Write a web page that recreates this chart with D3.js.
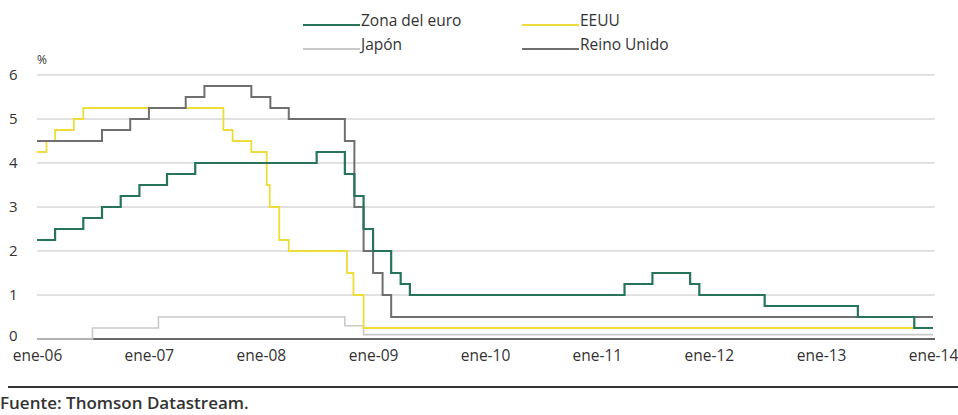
<!DOCTYPE html>
<html>
<head>
<meta charset="utf-8">
<script src="https://cdn.jsdelivr.net/npm/d3@7"></script>
<style>
  body { margin: 0; background: #fff; }
  svg text { font-family: "Open Sans", sans-serif; fill: #333; }
</style>
</head>
<body>
<svg width="958" height="415"></svg>
<script>
const width = 958;
const height = 415;

// tipos oficiales, % (fecha de cada cambio)
const euroDates = ["2006-01", "2006-03", "2006-06", "2006-08", "2006-10", "2006-12", "2007-03", "2007-06", "2008-07", "2008-10", "2008-11", "2008-12", "2009-01", "2009-03", "2009-04", "2009-05", "2011-04", "2011-07", "2011-11", "2011-12", "2012-07", "2013-05", "2013-11", "2014-01"];
const euroRates = [2.25, 2.5, 2.75, 3.0, 3.25, 3.5, 3.75, 4.0, 4.25, 3.75, 3.25, 2.5, 2.0, 1.5, 1.25, 1.0, 1.25, 1.5, 1.25, 1.0, 0.75, 0.5, 0.25, 0.25];

const usDates = ["2006-01", "2006-02", "2006-03", "2006-05", "2006-06", "2007-09", "2007-10", "2007-12", "2008-01-20", "2008-01-30", "2008-03", "2008-04", "2008-10-08", "2008-10-29", "2008-12", "2014-01"];
const usRates = [4.25, 4.5, 4.75, 5.0, 5.25, 4.75, 4.5, 4.25, 3.5, 3.0, 2.25, 2.0, 1.5, 1.0, 0.25, 0.25];

const jpDates = ["2006-01", "2006-07", "2007-02", "2008-10", "2008-12", "2014-01"];
const jpRates = [0, 0.25, 0.5, 0.3, 0.1, 0.1];

const ukDates = ["2006-01", "2006-08", "2006-11", "2007-01", "2007-05", "2007-07", "2007-12", "2008-02", "2008-04", "2008-10", "2008-11", "2008-12", "2009-01", "2009-02", "2009-03", "2014-01"];
const ukRates = [4.5, 4.75, 5.0, 5.25, 5.5, 5.75, 5.5, 5.25, 5.0, 4.5, 3.0, 2.0, 1.5, 1.0, 0.5, 0.5];

const yTicks = [0, 1, 2, 3, 4, 5, 6];
const xTicks = ["2006", "2007", "2008", "2009", "2010", "2011", "2012", "2013", "2014"];

const parse = s => new Date(s.length === 7 ? s + "-01" : s);
const pairs = (dates, rates) => dates.map((d, i) => [parse(d), rates[i]]);

const series = [
  { name: "Japón", data: pairs(jpDates, jpRates), color: "#c9c9c9", w: 1.6 },
  { name: "EEUU", data: pairs(usDates, usRates), color: "#eedc3a", w: 1.8 },
  { name: "Reino Unido", data: pairs(ukDates, ukRates), color: "#6f6f6f", w: 2 },
  { name: "Zona del euro", data: pairs(euroDates, euroRates), color: "#27745b", w: 2.2 }
];

let x = d3.scaleTime()
  .domain([new Date("2006-01-01"), new Date("2014-01-01")])
  .range([37, 933]);

let y = d3.scaleLinear().domain([0, 6]).range([339, 75]);

let line = d3.line()
  .x(d => x(d[0]))
  .y(d => y(d[1]))
  .curve(d3.curveStepAfter);

const svg = d3.select("svg");

// rejilla
svg.append("g")
  .selectAll("line")
  .data(yTicks.filter(d => d > 0))
  .join("line")
  .attr("x1", 37)
  .attr("x2", 935)
  .attr("y1", d => y(d))
  .attr("y2", d => y(d))
  .attr("stroke", "#c4c4c4")
  .attr("stroke-width", 1.2);

svg.append("line")
  .attr("x1", 37)
  .attr("x2", 935)
  .attr("y1", y(0))
  .attr("y2", y(0))
  .attr("stroke", "#666")
  .attr("stroke-width", 2);

// eje y
svg.append("g")
  .selectAll("text")
  .data(yTicks)
  .join("text")
  .attr("x", 9)
  .attr("y", d => y(d) - (d === 0 ? 3 : 0))
  .attr("dy", "0.35em")
  .attr("font-size", 15)
  .text(d => d);

svg.append("text")
  .attr("x", 37)
  .attr("y", 64)
  .attr("font-size", 12)
  .text("%");

// eje x
let xAxis = d3.axisBottom(x)
  .tickValues(xTicks.map(d => new Date(d + "-01-01")))
  .tickSize(0)
  .tickPadding(0)
  .tickFormat(d => "ene-" + d3.timeFormat("%y")(d));

svg.append("g")
  .attr("transform", `translate(0,${y(0) + 11})`)
  .call(xAxis)
  .call(g => g.select(".domain").remove())
  .selectAll("text")
  .attr("font-size", 15.5)
  .attr("font-family", "Open Sans, sans-serif")
  .attr("fill", "#333");

// series
svg.append("g")
  .selectAll("path")
  .data(series)
  .join("path")
  .attr("fill", "none")
  .attr("stroke", d => d.color)
  .attr("stroke-width", d => d.w)
  .attr("d", d => line(d.data));

// leyenda
const legend = [
  { name: "Zona del euro", color: "#27745b", lx: 303, ly: 25 },
  { name: "EEUU", color: "#eedc3a", lx: 522, ly: 25 },
  { name: "Japón", color: "#c9c9c9", lx: 303, ly: 49 },
  { name: "Reino Unido", color: "#6f6f6f", lx: 522, ly: 49 }
];

const lg = svg.append("g")
  .selectAll("g")
  .data(legend)
  .join("g")
  .attr("transform", d => `translate(${d.lx},${d.ly})`);

lg.append("line")
  .attr("x1", 0)
  .attr("x2", 57)
  .attr("stroke", d => d.color)
  .attr("stroke-width", 2);

lg.append("text")
  .attr("x", 58)
  .attr("dy", "0.05em")
  .attr("font-size", 15.5)
  .text(d => d.name);

// pie
svg.append("line")
  .attr("x1", 8)
  .attr("x2", 958)
  .attr("y1", 387)
  .attr("y2", 387)
  .attr("stroke", "#333")
  .attr("stroke-width", 2);

svg.append("text")
  .attr("x", 0)
  .attr("y", 409)
  .attr("font-size", 17)
  .attr("font-weight", 600)
  .text("Fuente: Thomson Datastream.");
</script>
</body>
</html>
